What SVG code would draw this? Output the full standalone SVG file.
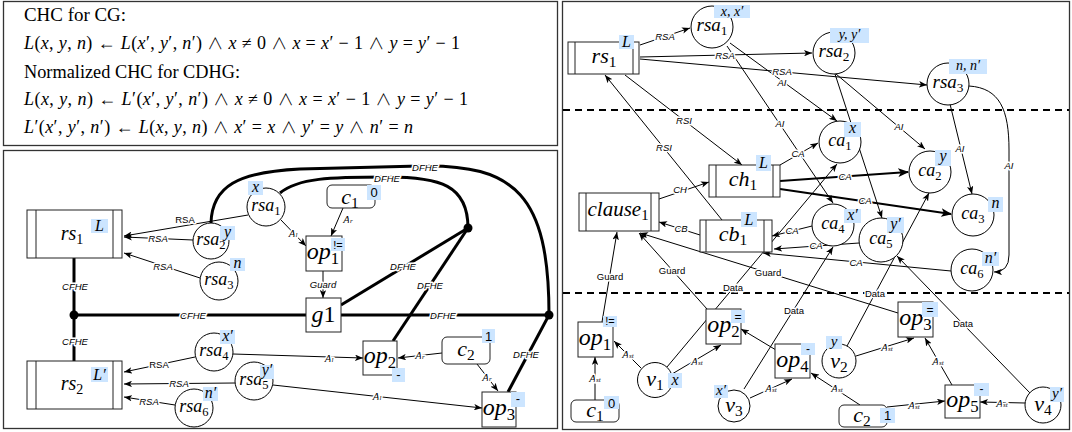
<svg xmlns="http://www.w3.org/2000/svg" width="1072" height="432" viewBox="0 0 1072 432">
<defs>
<style>
.pan{fill:none;stroke:#333;stroke-width:1.3}
.bx{fill:#fff;stroke:#222;stroke-width:1}
.in{stroke:#222;stroke-width:1;fill:none}
.ci{fill:#fff;stroke:#000;stroke-width:1}
.hl{fill:#cce5ff}
.m{font-family:"Liberation Serif","DejaVu Serif",serif;font-style:italic;text-anchor:middle;fill:#000}
.s{font-style:normal;font-size:70%}
.t{font-family:"Liberation Sans","DejaVu Sans",sans-serif;text-anchor:middle;fill:#000}
.e{fill:none;stroke:#000;stroke-width:1}
.k{fill:none;stroke:#000;stroke-width:3}
.k2{fill:none;stroke:#000;stroke-width:2}
.d{stroke:#000;stroke-width:2;stroke-dasharray:7 5}
.l{font-family:"Liberation Sans","DejaVu Sans",sans-serif;font-size:9.5px;font-style:italic;text-anchor:middle;dominant-baseline:central;fill:#000;stroke:#fff;stroke-width:3px;paint-order:stroke;stroke-linejoin:round}
.u{font-style:normal}
.a{font-family:"Liberation Serif","DejaVu Serif",serif;font-size:11px;font-style:italic;text-anchor:middle;dominant-baseline:central;fill:#000;stroke:#fff;stroke-width:3px;paint-order:stroke;stroke-linejoin:round}
.eq{font-family:"Liberation Serif","DejaVu Serif",serif;font-size:18px;fill:#000}
.i{font-style:italic}
.w{font-family:"Noto Sans CJK JP","DejaVu Sans",sans-serif;font-weight:300;font-size:16px}
</style>
<marker id="ar" viewBox="0 0 10 8" refX="10" refY="4" markerWidth="8" markerHeight="6.4" orient="auto" markerUnits="userSpaceOnUse"><path d="M0,0 L10,4 L0,8 L2.5,4 z" fill="#000"/></marker>
<marker id="ark" viewBox="0 0 10 8" refX="9" refY="4" markerWidth="11" markerHeight="8.8" orient="auto" markerUnits="userSpaceOnUse"><path d="M0,0 L10,4 L0,8 L2.5,4 z" fill="#000"/></marker>
</defs>
<rect width="1072" height="432" fill="#fff"/>

<!-- panels -->
<g id="panels">
<rect class="pan" x="3.5" y="1.5" width="554" height="144"/>
<rect class="pan" x="3.5" y="150.5" width="554" height="278"/>
<rect class="pan" x="562.5" y="1.5" width="507" height="428"/>
<line class="d" x1="563" y1="110" x2="1069" y2="110"/>
<line class="d" x1="563" y1="293" x2="1069" y2="293"/>
</g>

<!-- equations -->
<g id="equations">
<text class="eq" x="24" y="21" textLength="102" lengthAdjust="spacingAndGlyphs">CHC for CG:</text>
<text class="eq" x="24" y="49" textLength="436" lengthAdjust="spacing"><tspan class="i">L</tspan>(<tspan class="i">x</tspan>, <tspan class="i">y</tspan>, <tspan class="i">n</tspan>) ← <tspan class="i">L</tspan>(<tspan class="i">x</tspan>′, <tspan class="i">y</tspan>′, <tspan class="i">n</tspan>′) <tspan class="w">∧</tspan> <tspan class="i">x</tspan> ≠ 0 <tspan class="w">∧</tspan> <tspan class="i">x</tspan> = <tspan class="i">x</tspan>′ − 1 <tspan class="w">∧</tspan> <tspan class="i">y</tspan> = <tspan class="i">y</tspan>′ − 1</text>
<text class="eq" x="24" y="78" textLength="216" lengthAdjust="spacingAndGlyphs">Normalized CHC for CDHG:</text>
<text class="eq" x="24" y="105" textLength="444" lengthAdjust="spacing"><tspan class="i">L</tspan>(<tspan class="i">x</tspan>, <tspan class="i">y</tspan>, <tspan class="i">n</tspan>) ← <tspan class="i">L</tspan>′(<tspan class="i">x</tspan>′, <tspan class="i">y</tspan>′, <tspan class="i">n</tspan>′) <tspan class="w">∧</tspan> <tspan class="i">x</tspan> ≠ 0 <tspan class="w">∧</tspan> <tspan class="i">x</tspan> = <tspan class="i">x</tspan>′ − 1 <tspan class="w">∧</tspan> <tspan class="i">y</tspan> = <tspan class="i">y</tspan>′ − 1</text>
<text class="eq" x="24" y="133" textLength="389" lengthAdjust="spacing"><tspan class="i">L</tspan>′(<tspan class="i">x</tspan>′, <tspan class="i">y</tspan>′, <tspan class="i">n</tspan>′) ← <tspan class="i">L</tspan>(<tspan class="i">x</tspan>, <tspan class="i">y</tspan>, <tspan class="i">n</tspan>) <tspan class="w">∧</tspan> <tspan class="i">x</tspan>′ = <tspan class="i">x</tspan> <tspan class="w">∧</tspan> <tspan class="i">y</tspan>′ = <tspan class="i">y</tspan> <tspan class="w">∧</tspan> <tspan class="i">n</tspan>′ = <tspan class="i">n</tspan></text>
</g>

<!-- connectors -->
<g id="connectors">
<!-- bottom-left thick -->
<line class="k" x1="74" y1="258" x2="74" y2="361"/>
<line class="k" x1="74" y1="315" x2="549" y2="315"/>
<path class="k" d="M211,223 C212,186 238,172 300,169 L420,166 C515,164 549,195 549,315"/>
<path class="k" d="M280,193 C298,178 330,177 387,177 C440,177 468,185 468,228"/>
<line class="k" x1="468" y1="228" x2="341" y2="305"/>
<line class="k" x1="468" y1="228" x2="393" y2="341"/>
<line class="k" x1="549" y1="315" x2="508" y2="392"/>
<circle cx="74" cy="315" r="4.5"/>
<circle cx="468" cy="228" r="4.5"/>
<circle cx="549" cy="315" r="4.5"/>
<text class="l" x="75" y="286">CFHE</text>
<text class="l" x="75" y="341">CFHE</text>
<text class="l" x="193" y="315">CFHE</text>
<text class="l" x="443" y="315">DFHE</text>
<text class="l" x="425" y="167">DFHE</text>
<text class="l" x="387" y="178">DFHE</text>
<text class="l" x="403" y="266">DFHE</text>
<text class="l" x="430" y="285">DFHE</text>
<text class="l" x="526" y="354">DFHE</text>
<!-- bottom-left thin -->
<line class="e" x1="248" y1="215" x2="124" y2="236" marker-end="url(#ar)"/>
<line class="e" x1="193" y1="240" x2="124" y2="237" marker-end="url(#ar)"/>
<line class="e" x1="200" y1="278" x2="124" y2="253" marker-end="url(#ar)"/>
<line class="e" x1="281" y1="220" x2="306" y2="246" marker-end="url(#ar)"/>
<line class="e" x1="343" y1="208" x2="331" y2="236" marker-end="url(#ar)"/>
<line class="e" x1="323" y1="271" x2="323" y2="298" marker-end="url(#ar)"/>
<line class="e" x1="195" y1="357" x2="124" y2="372" marker-end="url(#ar)"/>
<line class="e" x1="235" y1="383" x2="124" y2="384" marker-end="url(#ar)"/>
<line class="e" x1="175" y1="405" x2="124" y2="397" marker-end="url(#ar)"/>
<line class="e" x1="233" y1="354" x2="363" y2="358" marker-end="url(#ar)"/>
<line class="e" x1="273" y1="385" x2="482" y2="408" marker-end="url(#ar)"/>
<line class="e" x1="442" y1="353" x2="398" y2="358" marker-end="url(#ar)"/>
<line class="e" x1="477" y1="364" x2="498" y2="391" marker-end="url(#ar)"/>
<text class="l u" x="185" y="219">RSA</text>
<text class="l" x="158" y="238">RSA</text>
<text class="l" x="163" y="266">RSA</text>
<text class="l u" x="159" y="364">RSA</text>
<text class="l" x="179" y="383">RSA</text>
<text class="l" x="149" y="401">RSA</text>
<text class="l" x="323" y="284" font-size="8.5">Guard</text>
<text class="a" x="293" y="233">A<tspan font-size="7" dy="2">l</tspan></text>
<text class="a" x="348" y="219">A<tspan font-size="7" dy="2">r</tspan></text>
<text class="a" x="329" y="358">A<tspan font-size="7" dy="2">l</tspan></text>
<text class="a" x="377" y="396">A<tspan font-size="7" dy="2">l</tspan></text>
<text class="a" x="420" y="355">A<tspan font-size="7" dy="2">r</tspan></text>
<text class="a" x="487" y="377">A<tspan font-size="7" dy="2">r</tspan></text>

<!-- right panel -->
<line class="e" x1="640" y1="45" x2="690" y2="28" marker-end="url(#ar)"/>
<line class="e" x1="640" y1="57" x2="812" y2="53" marker-end="url(#ar)"/>
<line class="e" x1="640" y1="59" x2="927" y2="85" marker-end="url(#ar)"/>
<line class="e" x1="730" y1="43" x2="837" y2="121" marker-end="url(#ar)"/>
<line class="e" x1="727" y1="46" x2="833" y2="203" marker-end="url(#ar)"/>
<line class="e" x1="836" y1="74" x2="925" y2="149" marker-end="url(#ar)"/>
<line class="e" x1="835" y1="74" x2="882" y2="218" marker-end="url(#ar)"/>
<line class="e" x1="950" y1="104" x2="972" y2="194" marker-end="url(#ar)"/>
<path class="e" d="M969,86 C1000,88 1009,110 1009,150 L1009,255 Q1009,272 994,272" marker-end="url(#ar)"/>
<line class="e" x1="625" y1="75" x2="742" y2="165" marker-end="url(#ar)"/>
<line class="e" x1="722" y1="220" x2="605" y2="75" marker-end="url(#ar)"/>
<line class="e" x1="659" y1="199" x2="709" y2="182" marker-end="url(#ar)"/>
<line class="e" x1="700" y1="235" x2="659" y2="222" marker-end="url(#ar)"/>
<line class="e" x1="780" y1="165" x2="818" y2="143" marker-end="url(#ar)"/>
<line class="k2" x1="780" y1="181" x2="908" y2="172" marker-end="url(#ark)"/>
<line class="k2" x1="780" y1="189" x2="951" y2="214" marker-end="url(#ark)"/>
<line class="e" x1="812" y1="226" x2="772" y2="236" marker-end="url(#ar)"/>
<line class="e" x1="859" y1="243" x2="774" y2="249" marker-end="url(#ar)"/>
<line class="e" x1="951" y1="271" x2="763" y2="253" marker-end="url(#ar)"/>
<line class="e" x1="602" y1="322" x2="617" y2="232" marker-end="url(#ar)"/>
<line class="e" x1="707" y1="309" x2="639" y2="233" marker-end="url(#ar)"/>
<line class="e" x1="898" y1="313" x2="640" y2="233" marker-end="url(#ar)"/>
<line class="e" x1="667" y1="367" x2="837" y2="164" marker-end="url(#ar)"/>
<line class="e" x1="847" y1="346" x2="929" y2="193" marker-end="url(#ar)"/>
<line class="e" x1="744" y1="389" x2="833" y2="247" marker-end="url(#ar)"/>
<line class="e" x1="1030" y1="393" x2="897" y2="256" marker-end="url(#ar)"/>
<line class="e" x1="595" y1="400" x2="595" y2="357" marker-end="url(#ar)"/>
<line class="e" x1="641" y1="368" x2="614" y2="341" marker-end="url(#ar)"/>
<line class="e" x1="672" y1="374" x2="721" y2="345" marker-end="url(#ar)"/>
<line class="e" x1="750" y1="398" x2="792" y2="379" marker-end="url(#ar)"/>
<line class="e" x1="776" y1="350" x2="741" y2="329" marker-end="url(#ar)"/>
<line class="e" x1="860" y1="405" x2="811" y2="373" marker-end="url(#ar)"/>
<line class="e" x1="856" y1="356" x2="914" y2="338" marker-end="url(#ar)"/>
<line class="e" x1="952" y1="385" x2="925" y2="338" marker-end="url(#ar)"/>
<line class="e" x1="887" y1="407" x2="945" y2="401" marker-end="url(#ar)"/>
<line class="e" x1="1025" y1="403" x2="980" y2="402" marker-end="url(#ar)"/>
<text class="l" x="665" y="36">RSA</text>
<text class="l" x="725" y="55">RSA</text>
<text class="l" x="782" y="71">RSA</text>
<text class="l" x="782" y="82">AI</text>
<text class="l" x="780" y="123">AI</text>
<text class="l" x="899" y="126">AI</text>
<text class="l" x="960" y="148">AI</text>
<text class="l" x="1009" y="165">AI</text>
<text class="l" x="684" y="120">RSI</text>
<text class="l" x="664" y="147">RSI</text>
<text class="l" x="680" y="189">CH</text>
<text class="l" x="681" y="228">CB</text>
<text class="l" x="798" y="153">CA</text>
<text class="l" x="845" y="176">CA</text>
<text class="l" x="865" y="200">CA</text>
<text class="l" x="792" y="230">CA</text>
<text class="l" x="816" y="245">CA</text>
<text class="l" x="856" y="262">CA</text>
<text class="l u" x="610" y="276">Guard</text>
<text class="l u" x="672" y="270">Guard</text>
<text class="l u" x="768" y="272">Guard</text>
<text class="l u" x="733" y="287">Data</text>
<text class="l u" x="875" y="293">Data</text>
<text class="l u" x="794" y="310">Data</text>
<text class="l u" x="963" y="323">Data</text>
<text class="a" x="595" y="378">A<tspan font-size="7" dy="2">st</tspan></text>
<text class="a" x="628" y="354">A<tspan font-size="7" dy="2">st</tspan></text>
<text class="a" x="697" y="361">A<tspan font-size="7" dy="2">st</tspan></text>
<text class="a" x="771" y="388">A<tspan font-size="7" dy="2">st</tspan></text>
<text class="a" x="837" y="388">A<tspan font-size="7" dy="2">st</tspan></text>
<text class="a" x="887" y="347">A<tspan font-size="7" dy="2">st</tspan></text>
<text class="a" x="938" y="361">A<tspan font-size="7" dy="2">st</tspan></text>
<text class="a" x="914" y="405">A<tspan font-size="7" dy="2">st</tspan></text>
<text class="a" x="1002" y="403">A<tspan font-size="7" dy="2">st</tspan></text>
</g>

<!-- bottom-left nodes -->
<g id="bl-rs1"><rect class="bx" x="27" y="210" width="95" height="48"/><line class="in" x1="36" y1="210" x2="36" y2="258"/><line class="in" x1="113" y1="210" x2="113" y2="258"/><text class="m" x="72" y="240" font-size="20">rs<tspan class="s" dy="4">1</tspan></text><rect class="hl" x="91" y="219" width="17" height="14"/><text class="m" x="99.5" y="231" font-size="16">L</text></g>
<g id="bl-rs2"><rect class="bx" x="27" y="361" width="95" height="48"/><line class="in" x1="36" y1="361" x2="36" y2="409"/><line class="in" x1="113" y1="361" x2="113" y2="409"/><text class="m" x="72" y="390" font-size="20">rs<tspan class="s" dy="4">2</tspan></text><rect class="hl" x="91" y="367" width="17" height="15"/><text class="m" x="99.5" y="379.5" font-size="16">L′</text></g>
<g id="bl-rsa1"><circle class="ci" cx="266" cy="207" r="19"/><text class="m" x="266" y="211" font-size="18">rsa<tspan class="s" dy="4">1</tspan></text><rect class="hl" x="248" y="181" width="15" height="14"/><text class="m" x="255.5" y="192" font-size="16">x</text></g>
<g id="bl-rsa2"><circle class="ci" cx="211" cy="241" r="18"/><text class="m" x="211" y="245" font-size="18">rsa<tspan class="s" dy="4">2</tspan></text><rect class="hl" x="220" y="226" width="15" height="14"/><text class="m" x="227.5" y="237" font-size="16">y</text></g>
<g id="bl-rsa3"><circle class="ci" cx="219" cy="281" r="19"/><text class="m" x="219" y="285" font-size="18">rsa<tspan class="s" dy="4">3</tspan></text><rect class="hl" x="230" y="258" width="15" height="13"/><text class="m" x="237.5" y="268" font-size="16">n</text></g>
<g id="bl-rsa4"><circle class="ci" cx="214" cy="352" r="19"/><text class="m" x="214" y="356" font-size="18">rsa<tspan class="s" dy="4">4</tspan></text><rect class="hl" x="220" y="330" width="15" height="14"/><text class="m" x="227.5" y="341" font-size="16">x′</text></g>
<g id="bl-rsa5"><circle class="ci" cx="254" cy="381" r="19"/><text class="m" x="254" y="385" font-size="18">rsa<tspan class="s" dy="4">5</tspan></text><rect class="hl" x="260" y="365" width="14" height="14"/><text class="m" x="267" y="375" font-size="16">y′</text></g>
<g id="bl-rsa6"><circle class="ci" cx="194" cy="408" r="19"/><text class="m" x="194" y="412" font-size="18">rsa<tspan class="s" dy="4">6</tspan></text><rect class="hl" x="203" y="387" width="15" height="14"/><text class="m" x="210.5" y="398" font-size="16">n′</text></g>
<g id="bl-c1"><rect class="bx" x="327" y="185" width="48" height="23" rx="5"/><text class="m" x="350" y="204" font-size="22">c<tspan class="s" dy="4">1</tspan></text><rect class="hl" x="367" y="185" width="14" height="15"/><text class="t" x="374" y="197" font-size="13">0</text></g>
<g id="bl-op1"><rect class="bx" x="306" y="236" width="36" height="35"/><text class="m" x="323" y="259" font-size="24">op<tspan class="s" dy="5">1</tspan></text><rect class="hl" x="331" y="238" width="14" height="13"/><text class="t" x="338" y="248.5" font-size="11">!=</text></g>
<g id="bl-g1"><rect class="bx" x="306" y="298" width="35" height="34"/><text class="m" x="323.5" y="322" font-size="24">g<tspan font-style="normal">1</tspan></text></g>
<g id="bl-op2"><rect class="bx" x="363" y="341" width="34" height="34"/><text class="m" x="380" y="363" font-size="24">op<tspan class="s" dy="5">2</tspan></text><rect class="hl" x="392" y="368" width="13" height="14"/><text class="t" x="398.5" y="379" font-size="13">-</text></g>
<g id="bl-c2"><rect class="bx" x="442" y="337" width="48" height="27" rx="5"/><text class="m" x="466" y="356" font-size="22">c<tspan class="s" dy="4">2</tspan></text><rect class="hl" x="482" y="329" width="13" height="14"/><text class="t" x="488.5" y="340.5" font-size="13">1</text></g>
<g id="bl-op3"><rect class="bx" x="482" y="392" width="34" height="35"/><text class="m" x="499" y="415" font-size="24">op<tspan class="s" dy="5">3</tspan></text><rect class="hl" x="511" y="392" width="14" height="15"/><text class="t" x="518" y="403" font-size="13">-</text></g>

<!-- right panel nodes -->
<g id="r-rs1"><rect class="bx" x="568" y="42" width="71" height="32"/><line class="in" x1="575" y1="42" x2="575" y2="74"/><line class="in" x1="633" y1="42" x2="633" y2="74"/><text class="m" x="604" y="63" font-size="22">rs<tspan class="s" dy="4">1</tspan></text><rect class="hl" x="619" y="35" width="15" height="14"/><text class="m" x="626.5" y="47" font-size="16">L</text></g>
<g id="r-rsa1"><circle class="ci" cx="712" cy="27" r="21"/><text class="m" x="712" y="31" font-size="19">rsa<tspan class="s" dy="4">1</tspan></text><rect class="hl" x="714" y="5" width="36" height="13"/><text class="m" x="732" y="15.5" font-size="14">x, x′</text></g>
<g id="r-rsa2"><circle class="ci" cx="834" cy="53" r="21"/><text class="m" x="834" y="57" font-size="19">rsa<tspan class="s" dy="4">2</tspan></text><rect class="hl" x="830" y="28" width="39" height="15"/><text class="m" x="849.5" y="39" font-size="14">y, y′</text></g>
<g id="r-rsa3"><circle class="ci" cx="948" cy="84" r="21"/><text class="m" x="948" y="88" font-size="19">rsa<tspan class="s" dy="4">3</tspan></text><rect class="hl" x="949" y="59" width="38" height="15"/><text class="m" x="968" y="70" font-size="14">n, n′</text></g>
<g id="r-ch1"><rect class="bx" x="709" y="165" width="71" height="32"/><line class="in" x1="716" y1="165" x2="716" y2="197"/><line class="in" x1="773" y1="165" x2="773" y2="197"/><text class="m" x="743" y="186" font-size="22">ch<tspan class="s" dy="4">1</tspan></text><rect class="hl" x="756" y="155" width="15" height="16"/><text class="m" x="763.5" y="168" font-size="16">L</text></g>
<g id="r-cb1"><rect class="bx" x="700" y="220" width="72" height="32"/><line class="in" x1="706" y1="220" x2="706" y2="252"/><line class="in" x1="764" y1="220" x2="764" y2="252"/><text class="m" x="733" y="241" font-size="22">cb<tspan class="s" dy="4">1</tspan></text><rect class="hl" x="741" y="212" width="16" height="15"/><text class="m" x="749" y="224.5" font-size="16">L</text></g>
<g id="r-clause1"><rect class="bx" x="579" y="193" width="80" height="38"/><line class="in" x1="586" y1="193" x2="586" y2="231"/><line class="in" x1="651" y1="193" x2="651" y2="231"/><text class="m" x="618" y="216" font-size="21">clause<tspan class="s" dy="4">1</tspan></text></g>
<g id="r-ca1"><circle class="ci" cx="840" cy="142" r="21"/><text class="m" x="840" y="146" font-size="18">ca<tspan class="s" dy="4">1</tspan></text><rect class="hl" x="844" y="122" width="17" height="15"/><text class="m" x="852.5" y="133" font-size="16">x</text></g>
<g id="r-ca2"><circle class="ci" cx="930" cy="172" r="21"/><text class="m" x="930" y="176" font-size="18">ca<tspan class="s" dy="4">2</tspan></text><rect class="hl" x="935" y="150" width="16" height="16"/><text class="m" x="943" y="161" font-size="16">y</text></g>
<g id="r-ca3"><circle class="ci" cx="973" cy="215" r="21"/><text class="m" x="973" y="219" font-size="18">ca<tspan class="s" dy="4">3</tspan></text><rect class="hl" x="988" y="197" width="15" height="15"/><text class="m" x="995.5" y="208" font-size="16">n</text></g>
<g id="r-ca4"><circle class="ci" cx="833" cy="225" r="21"/><text class="m" x="833" y="229" font-size="18">ca<tspan class="s" dy="4">4</tspan></text><rect class="hl" x="844" y="209" width="17" height="14"/><text class="m" x="852.5" y="220" font-size="16">x′</text></g>
<g id="r-ca5"><circle class="ci" cx="881" cy="240" r="22"/><text class="m" x="881" y="244" font-size="18">ca<tspan class="s" dy="4">5</tspan></text><rect class="hl" x="887" y="217" width="17" height="16"/><text class="m" x="895.5" y="229" font-size="16">y′</text></g>
<g id="r-ca6"><circle class="ci" cx="972" cy="270" r="21"/><text class="m" x="972" y="274" font-size="18">ca<tspan class="s" dy="4">6</tspan></text><rect class="hl" x="982" y="252" width="17" height="14"/><text class="m" x="990.5" y="263" font-size="16">n′</text></g>
<g id="r-op1"><rect class="bx" x="578" y="322" width="35" height="35"/><text class="m" x="595" y="345" font-size="24">op<tspan class="s" dy="5">1</tspan></text><rect class="hl" x="603" y="316" width="14" height="11"/><text class="t" x="610" y="325" font-size="11">!=</text></g>
<g id="r-c1"><rect class="bx" x="571" y="400" width="48" height="22" rx="5"/><text class="m" x="595" y="417" font-size="22">c<tspan class="s" dy="4">1</tspan></text><rect class="hl" x="604" y="396" width="15" height="13"/><text class="t" x="611.5" y="407.5" font-size="13">0</text></g>
<g id="r-v1"><circle class="ci" cx="655" cy="380" r="17.5"/><text class="m" x="655" y="386" font-size="22">v<tspan class="s" dy="4">1</tspan></text><rect class="hl" x="668" y="373" width="14" height="15"/><text class="m" x="675" y="384.5" font-size="16">x</text></g>
<g id="r-op2"><rect class="bx" x="706" y="309" width="35" height="35"/><text class="m" x="723.5" y="332" font-size="24">op<tspan class="s" dy="5">2</tspan></text><rect class="hl" x="731" y="310" width="14" height="13"/><text class="t" x="738" y="321" font-size="12">=</text></g>
<g id="r-op4"><rect class="bx" x="775" y="344" width="35" height="34"/><text class="m" x="792.5" y="367" font-size="24">op<tspan class="s" dy="5">4</tspan></text><rect class="hl" x="801" y="343" width="14" height="12"/><text class="t" x="808" y="353" font-size="12">-</text></g>
<g id="r-v3"><circle class="ci" cx="734" cy="406" r="16"/><text class="m" x="734" y="412" font-size="22">v<tspan class="s" dy="4">3</tspan></text><rect class="hl" x="714" y="385" width="14" height="13"/><text class="m" x="721" y="395" font-size="15">x′</text></g>
<g id="r-v2"><circle class="ci" cx="839" cy="361" r="17"/><text class="m" x="839" y="368" font-size="22">v<tspan class="s" dy="4">2</tspan></text><rect class="hl" x="826" y="336" width="16" height="13"/><text class="m" x="834" y="346" font-size="15">y</text></g>
<g id="r-op3"><rect class="bx" x="898" y="302" width="35" height="35"/><text class="m" x="915.5" y="325" font-size="24">op<tspan class="s" dy="5">3</tspan></text><rect class="hl" x="922" y="302" width="16" height="15"/><text class="t" x="930" y="313.5" font-size="12">=</text></g>
<g id="r-op5"><rect class="bx" x="945" y="385" width="35" height="33"/><text class="m" x="962.5" y="407" font-size="24">op<tspan class="s" dy="5">5</tspan></text><rect class="hl" x="974" y="383" width="15" height="13"/><text class="t" x="981.5" y="393" font-size="12">-</text></g>
<g id="r-c2"><rect class="bx" x="839" y="405" width="48" height="22" rx="5"/><text class="m" x="862" y="422" font-size="22">c<tspan class="s" dy="4">2</tspan></text><rect class="hl" x="880" y="408" width="15" height="15"/><text class="t" x="887.5" y="420" font-size="13">1</text></g>
<g id="r-v4"><circle class="ci" cx="1043" cy="405" r="18"/><text class="m" x="1043" y="411" font-size="22">v<tspan class="s" dy="4">4</tspan></text><rect class="hl" x="1050" y="387" width="14" height="15"/><text class="m" x="1057" y="398" font-size="15">y′</text></g>
</svg>
